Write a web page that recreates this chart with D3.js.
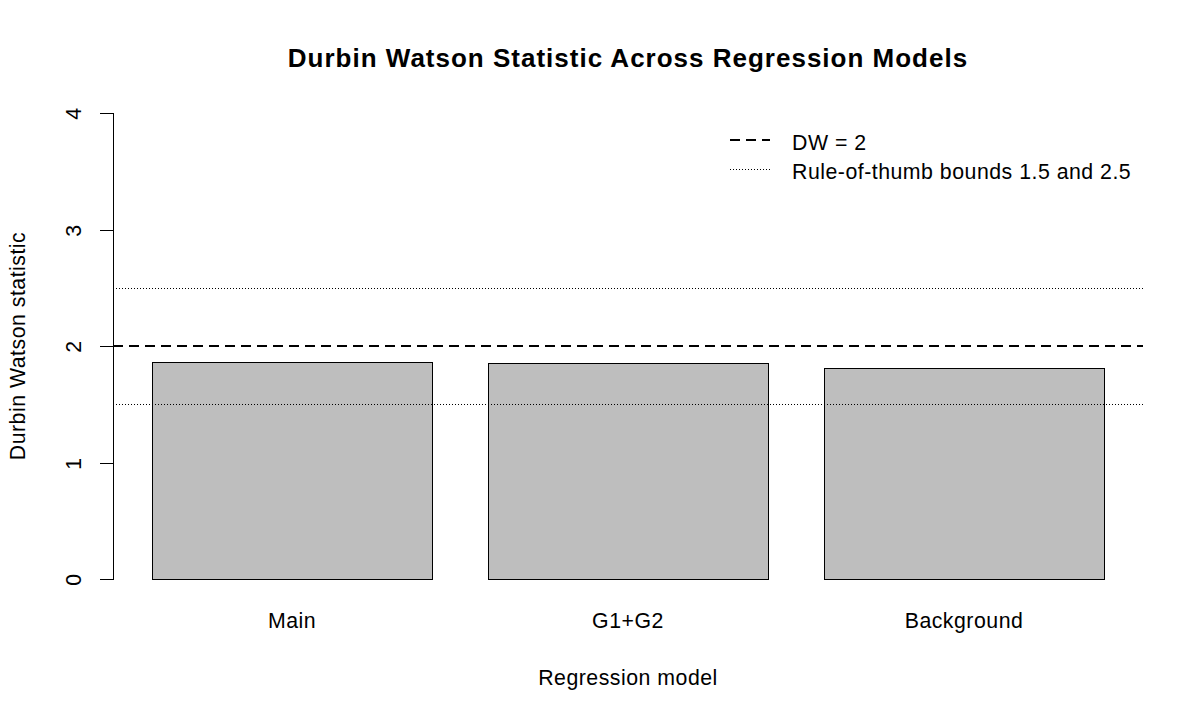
<!DOCTYPE html>
<html>
<head>
<meta charset="utf-8">
<script src="https://cdn.jsdelivr.net/npm/d3@7"></script>
<style>
  body { margin: 0; background: #fff; }
  text { font-family: "Liberation Sans", Arial, sans-serif; fill: #000; letter-spacing: 0.5px; }
  line, rect, path { shape-rendering: crispEdges; }
</style>
</head>
<body>
<script>
'use strict';

// Data
const models = ["Main", "G1+G2", "Background"];
const dwValues = [1.864, 1.856, 1.813];
const yTicks = [0, 1, 2, 3, 4];
const refLine = 2;
const boundLines = [1.5, 2.5];
const legendLabels = ["DW = 2", "Rule-of-thumb bounds 1.5 and 2.5"];

const createPlot = () => {
    let width = 1200,
        height = 720;

    // plot region (R style, no box)
    let plot = {left: 113, right: 1143, top: 113, bottom: 579};

    let svg = d3.select("body")
        .append("svg")
            .attr("width", width)
            .attr("height", height);

    // Set the ranges
    let x = d3.scaleBand()
        .domain(models)
        .range([plot.left, plot.right])
        .paddingInner(1 / 6)
        .paddingOuter(0.116);

    let y = d3.scaleLinear()
        .domain([0, 4])
        .range([plot.bottom, plot.top]);

    // Bars
    svg.selectAll("rect.bar")
        .data(models)
        .enter()
        .append("rect")
            .attr("class", "bar")
            .attr("x", d => Math.round(x(d)) + 0.5)
            .attr("y", (d, i) => Math.round(y(dwValues[i])) + 0.5)
            .attr("width", Math.round(x.bandwidth()))
            .attr("height", (d, i) => Math.round(y(0)) - Math.round(y(dwValues[i])))
            .style("fill", "#bebebe")
            .style("stroke", "#000")
            .style("stroke-width", 1);

    // Rule-of-thumb bounds (dotted)
    svg.selectAll("line.bound")
        .data(boundLines)
        .enter()
        .append("line")
            .attr("class", "bound")
            .attr("x1", plot.left)
            .attr("x2", plot.right)
            .attr("y1", d => Math.round(y(d)) + 0.5)
            .attr("y2", d => Math.round(y(d)) + 0.5)
            .style("stroke", "#000")
            .style("stroke-width", 1)
            .style("stroke-dasharray", "1,2");

    // DW = 2 line (dashed)
    svg.append("line")
        .attr("x1", plot.left)
        .attr("x2", plot.right)
        .attr("y1", Math.round(y(refLine)))
        .attr("y2", Math.round(y(refLine)))
        .style("stroke", "#000")
        .style("stroke-width", 2)
        .style("stroke-dasharray", "10,6");

    // Y axis
    let yAxis = d3.axisLeft(y).tickValues(yTicks).tickFormat(d3.format("d")).tickSize(14);
    let gY = svg.append("g")
        .attr("transform", "translate(" + (plot.left + 0.5) + ",0.5)")
        .call(yAxis);
    gY.select(".domain").attr("d", "M0," + Math.round(y(4)) + "V" + Math.round(y(0))).style("stroke", "#000");
    gY.selectAll(".tick").attr("transform", d => "translate(0," + Math.round(y(d)) + ")");
    gY.selectAll(".tick line").style("stroke", "#000");
    gY.selectAll(".tick text")
        .attr("x", null)
        .attr("dy", null)
        .attr("transform", "translate(-32.5,0) rotate(-90)")
        .attr("text-anchor", "middle")
        .style("font-size", "21.3px")
        .style("font-family", "Liberation Sans, Arial, sans-serif");

    // X labels
    svg.selectAll("text.xlab")
        .data(models)
        .enter()
        .append("text")
            .attr("class", "xlab")
            .attr("x", d => x(d) + x.bandwidth() / 2)
            .attr("y", 628)
            .attr("text-anchor", "middle")
            .style("font-size", "21.3px")
            .text(d => d);

    // Title and axis titles
    svg.append("text")
        .attr("x", (plot.left + plot.right) / 2)
        .attr("y", 67)
        .attr("text-anchor", "middle")
        .style("font-size", "26px")
        .style("font-weight", "bold")
        .style("letter-spacing", "1px")
        .text("Durbin Watson Statistic Across Regression Models");

    svg.append("text")
        .attr("x", (plot.left + plot.right) / 2)
        .attr("y", 685)
        .attr("text-anchor", "middle")
        .style("font-size", "21.3px")
        .text("Regression model");

    svg.append("text")
        .attr("transform", "translate(25," + ((plot.top + plot.bottom) / 2) + ") rotate(-90)")
        .attr("text-anchor", "middle")
        .style("font-size", "21.3px")
        .text("Durbin Watson statistic");

    // Legend (no box)
    let legend = svg.append("g").attr("transform", "translate(730,140)");
    let dashes = ["10,6", "1,2"];
    let widths = [2, 1];
    legendLabels.forEach((lab, i) => {
        let row = legend.append("g").attr("transform", "translate(0," + (i * 29) + ")");
        row.append("line")
            .attr("x1", 0)
            .attr("x2", 40)
            .attr("y1", i === 1 ? 0.5 : 0)
            .attr("y2", i === 1 ? 0.5 : 0)
            .style("stroke", "#000")
            .style("stroke-width", widths[i])
            .style("stroke-dasharray", dashes[i]);
        row.append("text")
            .attr("x", 62)
            .attr("y", 10)
            .style("font-size", "21.3px")
            .text(lab);
    });

    return svg;
}

createPlot();
</script>
</body>
</html>
